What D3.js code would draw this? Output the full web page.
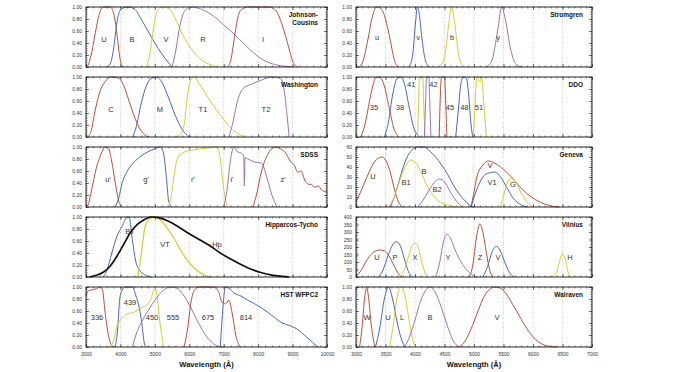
<!DOCTYPE html>
<html>
<head>
<meta charset="utf-8">
<script src="https://cdnjs.cloudflare.com/ajax/libs/d3/7.8.5/d3.min.js"></script>
<style>
body { margin: 0; background: #fff; }
svg { font-family: "Liberation Sans", Arial, sans-serif; }
.tick text { font-size: 5px; fill: #333; }
.axis path.domain { display: none; }
.axis line { stroke: #222; stroke-width: 0.6; }
.grid { stroke: #aaa; stroke-width: 0.6; stroke-dasharray: 1,1.5; }
.band { fill: none; }
.lbl { font-size: 7.5px; text-anchor: middle; dominant-baseline: middle; }
.title { font-size: 6.5px; font-weight: bold; text-anchor: end; }
.xtitle { font-size: 7.5px; font-weight: bold; text-anchor: middle; }
</style>
</head>
<body>
<svg width="673" height="372"></svg>
<script>
// ---- filter transmission curves: [wavelength (A), transmission] ----
var johnsonCousins = [
  {band: "U", pts: [[3000,0],[3050,0.02],[3150,0.2],[3250,0.5],[3350,0.8],[3450,0.97],[3550,1],[3700,1],[3800,0.9],[3900,0.55],[3950,0.3],[4000,0.1],[4050,0.02],[4100,0]]},
  {band: "B", pts: [[3600,0],[3700,0.05],[3800,0.3],[3900,0.75],[4000,0.95],[4200,1],[4400,0.97],[4600,0.8],[4800,0.6],[5000,0.4],[5200,0.22],[5400,0.07],[5500,0]]},
  {band: "V", pts: [[4750,0],[4850,0.2],[4950,0.6],[5050,0.9],[5200,1],[5400,0.98],[5600,0.8],[5800,0.55],[6000,0.35],[6200,0.2],[6400,0.1],[6600,0.04],[6800,0]]},
  {band: "R", pts: [[5500,0],[5600,0.25],[5700,0.6],[5800,0.85],[5950,0.98],[6100,1],[6400,0.95],[6700,0.85],[7000,0.7],[7300,0.55],[7600,0.38],[7900,0.22],[8200,0.1],[8500,0.04],[8800,0.01],[9000,0]]},
  {band: "I", pts: [[7100,0],[7200,0.1],[7300,0.45],[7400,0.8],[7500,0.95],[7700,1],[8300,1],[8500,0.95],[8700,0.7],[8900,0.3],[9000,0.1],[9150,0]]}
];
var washington = [
  {band: "C", pts: [[3050,0],[3150,0.1],[3250,0.4],[3400,0.75],[3550,0.92],[3750,1],[3950,0.98],[4100,0.85],[4250,0.6],[4400,0.35],[4550,0.15],[4700,0.04],[4800,0]]},
  {band: "M", pts: [[4350,0],[4450,0.15],[4600,0.55],[4750,0.85],[4900,0.98],[5050,1],[5200,0.92],[5400,0.65],[5600,0.35],[5800,0.12],[6000,0]]},
  {band: "T1", pts: [[5600,0],[5750,0.05],[5850,0.2],[5950,0.7],[6050,0.95],[6150,1],[6300,0.88],[6500,0.7],[6700,0.52],[6900,0.37],[7100,0.22],[7300,0.1],[7500,0.03],[7650,0]]},
  {band: "T2", pts: [[7150,0],[7250,0.2],[7400,0.6],[7550,0.8],[7800,0.88],[8100,0.95],[8400,1],[8650,0.98],[8750,0.8],[8850,0.3],[8900,0]]}
];
var sdss = [
  {band: "u'", pts: [[3000,0],[3050,0.02],[3150,0.25],[3300,0.65],[3450,0.9],[3550,1],[3650,0.98],[3750,0.75],[3850,0.4],[3950,0.1],[4050,0]]},
  {band: "g'", pts: [[3850,0],[3950,0.15],[4050,0.4],[4200,0.6],[4400,0.75],[4600,0.85],[4800,0.92],[5000,0.97],[5150,1],[5250,0.9],[5350,0.4],[5400,0.1],[5500,0]]},
  {band: "r'", pts: [[5350,0],[5450,0.1],[5550,0.5],[5650,0.8],[5800,0.9],[6100,0.95],[6500,0.98],[6800,1],[6900,0.8],[7000,0.3],[7100,0]]},
  {band: "i'", pts: [[7000,0],[7100,0.3],[7200,0.8],[7300,1],[7400,0.92],[7500,0.9],[7580,0.85],[7600,0.35],[7620,0.82],[7700,0.8],[7900,0.75],[8100,0.73],[8250,0.5],[8400,0.2],[8550,0]]},
  {band: "z'", pts: [[7850,0],[7950,0.2],[8100,0.6],[8300,0.9],[8500,1],[8650,0.97],[8800,0.9],[8950,0.75],[9050,0.7],[9150,0.58],[9250,0.6],[9350,0.45],[9450,0.38],[9550,0.37],[9650,0.33],[9750,0.35],[9850,0.28],[10000,0.25]]}
];
var hipparcosTycho = [
  {band: "BT", pts: [[3500,0],[3600,0.1],[3750,0.4],[3900,0.68],[4050,0.85],[4200,1],[4250,1],[4350,0.6],[4450,0.25],[4550,0.12],[4700,0.04],[4900,0]]},
  {band: "VT", pts: [[4500,0],[4600,0.35],[4700,0.8],[4800,0.95],[5000,1],[5200,0.93],[5400,0.78],[5600,0.6],[5800,0.4],[6000,0.24],[6200,0.12],[6400,0.04],[6600,0]]},
  {band: "Hp", pts: [[3100,0],[3300,0.03],[3500,0.08],[3700,0.18],[3900,0.35],[4100,0.55],[4300,0.75],[4500,0.88],[4700,0.96],[4900,1],[5100,0.99],[5400,0.93],[5700,0.83],[6000,0.72],[6300,0.62],[6600,0.52],[6900,0.4],[7200,0.3],[7500,0.21],[7800,0.13],[8100,0.07],[8400,0.03],[8700,0.01],[8900,0]]}
];
var hstWfpc2 = [
  {band: "336", pts: [[3000,0.85],[3050,0.93],[3150,0.95],[3300,0.97],[3420,1],[3480,0.95],[3550,0.6],[3650,0.2],[3750,0.02],[3800,0]]},
  {band: "439", pts: [[3850,0],[3920,0.3],[3980,0.8],[4050,0.95],[4150,1],[4350,1],[4450,0.85],[4550,0.65],[4620,0.4],[4700,0.05],[4750,0]]},
  {band: "450", pts: [[3700,0],[3800,0.1],[3900,0.35],[4000,0.45],[4200,0.55],[4400,0.58],[4600,0.65],[4800,0.72],[4900,0.82],[5000,1],[5050,0.9],[5150,0.4],[5250,0]]},
  {band: "555", pts: [[4350,0],[4450,0.2],[4600,0.4],[4800,0.6],[5000,0.78],[5200,0.92],[5450,1],[5650,0.98],[5850,0.85],[6050,0.65],[6250,0.42],[6450,0.22],[6650,0.08],[6850,0.01],[7000,0]]},
  {band: "675", pts: [[5850,0],[5950,0.3],[6050,0.75],[6150,0.95],[6300,1],[6700,1],[6850,0.92],[6950,0.75],[7050,0.72],[7150,0.78],[7250,0.55],[7350,0.2],[7450,0.03],[7500,0]]},
  {band: "814", pts: [[6900,0],[6970,0.6],[7050,1],[7150,0.98],[7300,0.9],[7500,0.85],[7700,0.78],[7900,0.72],[8100,0.65],[8300,0.57],[8500,0.48],[8700,0.4],[8900,0.36],[9100,0.31],[9300,0.22],[9500,0.12],[9650,0.04],[9750,0]]}
];
var stromgren = [
  {band: "u", pts: [[3050,0],[3120,0.1],[3200,0.45],[3280,0.85],[3350,1],[3420,0.98],[3500,0.8],[3580,0.45],[3650,0.12],[3720,0]]},
  {band: "v", pts: [[3900,0],[3960,0.2],[4010,0.75],[4040,1],[4070,0.9],[4120,0.45],[4180,0.1],[4250,0]]},
  {band: "b", pts: [[4400,0],[4500,0.15],[4570,0.7],[4620,1],[4670,0.75],[4740,0.2],[4820,0]]},
  {band: "y", pts: [[5200,0],[5300,0.1],[5400,0.6],[5470,1],[5530,0.8],[5620,0.3],[5700,0.06],[5800,0]]}
];
var ddo = [
  {band: "35", pts: [[3080,0],[3150,0.2],[3250,0.7],[3330,0.98],[3400,1],[3480,0.85],[3560,0.5],[3640,0.15],[3720,0]]},
  {band: "38", pts: [[3480,0],[3550,0.25],[3620,0.7],[3700,0.98],[3760,1],[3830,0.85],[3900,0.5],[3980,0.15],[4080,0]]},
  {band: "41", pts: [[4040,0],[4060,0.5],[4075,1],[4130,1],[4150,0.5],[4170,0]]},
  {band: "42", pts: [[4160,0],[4180,0.6],[4195,1],[4235,1],[4250,0.6],[4270,0]]},
  {band: "45", pts: [[4410,0],[4430,0.7],[4450,1],[4500,1],[4520,0.6],[4540,0]]},
  {band: "48", pts: [[4690,0],[4730,0.4],[4780,0.9],[4820,1],[4870,0.98],[4910,0.7],[4950,0.2],[4980,0]]},
  {band: "51", pts: [[4990,0],[5020,0.6],[5050,1],[5100,0.92],[5130,1],[5170,0.5],[5210,0]]}
];
var geneva = [
  {band: "U", pts: [[3000,5],[3100,18],[3200,32],[3300,44],[3400,49.5],[3450,50],[3500,47],[3580,35],[3650,18],[3720,5],[3780,0]]},
  {band: "B", pts: [[3580,0],[3650,10],[3750,30],[3850,48],[3950,57],[4050,60],[4150,60],[4250,56],[4350,50],[4450,42],[4550,33],[4650,22],[4750,13],[4850,6],[4950,1],[5000,0]]},
  {band: "B1", pts: [[3550,0],[3650,10],[3750,28],[3850,42],[3930,47],[4000,45],[4100,35],[4200,22],[4300,12],[4400,6],[4550,2],[4700,0]]},
  {band: "B2", pts: [[4050,0],[4150,8],[4250,18],[4350,26],[4420,28],[4500,25],[4600,15],[4700,6],[4800,0]]},
  {band: "V", pts: [[4950,0],[5000,15],[5050,30],[5150,42],[5250,46],[5350,44],[5450,40],[5550,35],[5650,29],[5750,22],[5850,16],[5950,11],[6050,7],[6200,3],[6350,0.5],[6450,0]]},
  {band: "V1", pts: [[4950,0],[5050,18],[5150,30],[5250,34],[5350,35],[5450,30],[5550,20],[5650,10],[5750,4],[5900,0]]},
  {band: "G", pts: [[5450,0],[5520,15],[5580,26],[5640,29],[5700,26],[5800,14],[5900,5],[6000,0]]}
];
var vilnius = [
  {band: "U", pts: [[3000,2],[3080,40],[3180,110],[3280,160],[3400,180],[3480,175],[3560,140],[3640,80],[3720,20],[3780,0]]},
  {band: "P", pts: [[3380,0],[3450,40],[3550,150],[3630,220],[3690,235],[3750,210],[3820,120],[3890,35],[3950,0]]},
  {band: "X", pts: [[3750,0],[3820,50],[3900,150],[3960,215],[4010,225],[4060,190],[4120,90],[4180,20],[4220,0]]},
  {band: "Y", pts: [[4350,0],[4420,100],[4480,230],[4540,285],[4600,260],[4680,180],[4780,100],[4880,45],[4980,12],[5050,0]]},
  {band: "Z", pts: [[4920,0],[4980,80],[5040,260],[5100,355],[5150,300],[5210,160],[5270,40],[5320,0]]},
  {band: "V", pts: [[5150,0],[5230,70],[5310,170],[5380,205],[5440,180],[5520,100],[5600,30],[5680,0]]},
  {band: "H", pts: [[6300,0],[6400,30],[6460,120],[6500,155],[6540,130],[6590,40],[6640,0]]}
];
var walraven = [
  {band: "W", pts: [[3060,0],[3100,0.3],[3150,0.85],[3180,1],[3210,0.85],[3260,0.35],[3320,0]]},
  {band: "U", pts: [[3330,0],[3400,0.3],[3480,0.8],[3550,1],[3620,0.8],[3700,0.4],[3780,0.1],[3840,0]]},
  {band: "L", pts: [[3570,0],[3630,0.35],[3700,0.85],[3760,1],[3830,0.85],[3900,0.45],[3960,0.12],[4010,0]]},
  {band: "B", pts: [[3820,0],[3900,0.15],[4000,0.45],[4100,0.78],[4200,0.97],[4260,1],[4350,0.9],[4450,0.65],[4550,0.35],[4650,0.1],[4750,0]]},
  {band: "V", pts: [[4750,0],[4850,0.1],[4950,0.3],[5050,0.55],[5150,0.8],[5250,0.95],[5350,1],[5450,0.98],[5550,0.88],[5650,0.72],[5750,0.55],[5850,0.38],[5950,0.23],[6050,0.12],[6150,0.05],[6300,0.01],[6400,0]]}
];

// label anchors in data units [wavelength, value], same order as the bands
var labelsJC = [[3523,0.45],[4336,0.45],[5324,0.45],[6398,0.45],[8141,0.45]];
var labelsWash = [[3726,0.45],[5149,0.45],[6398,0.45],[8228,0.45]];
var labelsSdss = [[3639,0.45],[4743,0.45],[6108,0.45],[7241,0.45],[8722,0.45]];
var labelsHT = [[4278,0.75],[5295,0.53],[6805,0.53]];
var labelsHst = [[3320,0.48],[4278,0.73],[4917,0.48],[5527,0.48],[6544,0.48],[7647,0.48]];
var labelsStrom = [[3356,0.48],[4051,0.48],[4627,0.48],[5407,0.48]];
var labelsDdo = [[3305,0.48],[3746,0.48],[3935,0.87],[4314,0.87],[4593,0.48],[4836,0.48],[5085,0.48]];
var labelsGeneva = [[3288,30],[4153,35],[3847,24],[4373,17],[5271,41],[5305,24],[5661,22]];
var labelsVilnius = [[3356,127],[3661,127],[4000,127],[4559,127],[5102,127],[5407,127],[6627,127]];
var labelsWalraven = [[3186,0.48],[3542,0.48],[3780,0.48],[4254,0.48],[5390,0.48]];

var xTicksLeft = [3000,4000,5000,6000,7000,8000,9000,10000];
var xTicksRight = [3000,3500,4000,4500,5000,5500,6000,6500,7000];

// ---- layout / style ----
var svg = d3.select("svg");
var palette = ["#b8503c", "#4a66b8", "#d6cc3c", "#9b74b3"];
var cols = {
  left:  {x0: 86, x1: 327, dom: [3000, 10000], ticks: xTicksLeft, minor: 200},
  right: {x0: 356, x1: 592, dom: [3000, 7000], ticks: xTicksRight, minor: 100}
};
var rowTop = function(r) { return 7 + r * 70; },
    rowH = 60;

function drawPanel(colName, row, title, curves, spots, yMax, yStep, yFmt) {
  var c = cols[colName],
      top = rowTop(row),
      bot = top + rowH;

  var x = d3.scaleLinear().domain(c.dom).range([c.x0, c.x1]);
  var y = d3.scaleLinear().domain([0, yMax]).range([bot, top]);

  var g = svg.append("g");

  // dotted grid
  g.selectAll(".grid")
    .data(c.ticks.slice(1, -1))
    .enter().append("line")
    .attr("class", "grid")
    .attr("x1", function(d) { return x(d); })
    .attr("x2", function(d) { return x(d); })
    .attr("y1", top).attr("y2", bot);

  var yMajor = d3.range(0, yMax + yStep / 2, yStep),
      yMinor = d3.range(0, yMax + 1e-9, yStep / 5),
      xMinor = d3.range(c.dom[0], c.dom[1] + 1, c.minor);

  // ticks on all four sides, inward
  g.append("g").attr("class", "axis")
    .attr("transform", "translate(" + c.x0 + ",0)")
    .call(d3.axisLeft(y).tickValues(yMajor).tickSize(-3).tickPadding(4).tickFormat(d3.format(yFmt)));
  g.append("g").attr("class", "axis")
    .attr("transform", "translate(" + c.x0 + ",0)")
    .call(d3.axisLeft(y).tickValues(yMinor).tickSize(-1.5).tickFormat(""));
  g.append("g").attr("class", "axis")
    .attr("transform", "translate(" + c.x1 + ",0)")
    .call(d3.axisRight(y).tickValues(yMajor).tickSize(-3).tickFormat(""));
  g.append("g").attr("class", "axis")
    .attr("transform", "translate(" + c.x1 + ",0)")
    .call(d3.axisRight(y).tickValues(yMinor).tickSize(-1.5).tickFormat(""));

  g.append("g").attr("class", "axis")
    .attr("transform", "translate(0," + top + ")")
    .call(d3.axisTop(x).tickValues(c.ticks).tickSize(-3).tickFormat(""));
  g.append("g").attr("class", "axis")
    .attr("transform", "translate(0," + top + ")")
    .call(d3.axisTop(x).tickValues(xMinor).tickSize(-1.5).tickFormat(""));
  g.append("g").attr("class", "axis")
    .attr("transform", "translate(0," + bot + ")")
    .call(d3.axisBottom(x).tickValues(c.ticks).tickSize(-3).tickPadding(5)
      .tickFormat(row === 4 ? d3.format("d") : ""));
  g.append("g").attr("class", "axis")
    .attr("transform", "translate(0," + bot + ")")
    .call(d3.axisBottom(x).tickValues(xMinor).tickSize(-1.5).tickFormat(""));

  // curves
  var line = d3.line()
    .x(function(d) { return x(d[0]); })
    .y(function(d) { return y(d[1]); })
    .curve(d3.curveMonotoneX);

  g.append("g")
    .selectAll("path")
    .data(curves)
    .enter().append("path")
    .attr("class", "band")
    .attr("stroke", function(d, i) {
      if (d.band === "Hp") return "#111";
      if (colName === "left" && row === 3) return palette[i + 1];
      return palette[i % 4];
    })
    .attr("stroke-width", function(d) { return d.band === "Hp" ? 1.7 : (d.band === "VT" ? 1.3 : 1); })
    .attr("d", function(d) { return line(d.pts); });

  // frame
  g.append("rect")
    .attr("x", c.x0).attr("y", top)
    .attr("width", c.x1 - c.x0).attr("height", rowH)
    .attr("fill", "none").attr("stroke", "#111").attr("stroke-width", 0.9);

  // band names
  g.selectAll(".lbl")
    .data(curves)
    .enter().append("text")
    .attr("class", "lbl")
    .attr("fill", "#333")
    .attr("x", function(d, i) { return x(spots[i][0]); })
    .attr("y", function(d, i) { return y(spots[i][1]); })
    .text(function(d) { return d.band; });

  // panel title
  var t = g.append("text")
    .attr("class", "title")
    .attr("fill", "#111")
    .attr("x", c.x1 - 9)
    .attr("y", top + 10);
  title.split("\n").forEach(function(s, k) {
    t.append("tspan").attr("x", c.x1 - 9).attr("dy", k ? 8 : 0).text(s);
  });
}

drawPanel("left", 0, "Johnson-\nCousins", johnsonCousins, labelsJC, 1, 0.2, ".2f");
drawPanel("left", 1, "Washington", washington, labelsWash, 1, 0.2, ".2f");
drawPanel("left", 2, "SDSS", sdss, labelsSdss, 1, 0.2, ".2f");
drawPanel("left", 3, "Hipparcos-Tycho", hipparcosTycho, labelsHT, 1, 0.2, ".2f");
drawPanel("left", 4, "HST WFPC2", hstWfpc2, labelsHst, 1, 0.2, ".2f");

drawPanel("right", 0, "Stromgren", stromgren, labelsStrom, 1, 0.2, ".2f");
drawPanel("right", 1, "DDO", ddo, labelsDdo, 1, 0.2, ".2f");
drawPanel("right", 2, "Geneva", geneva, labelsGeneva, 60, 10, "d");
drawPanel("right", 3, "Vilnius", vilnius, labelsVilnius, 400, 50, "d");
drawPanel("right", 4, "Walraven", walraven, labelsWalraven, 1, 0.2, ".2f");

// axis titles
svg.append("text").attr("class", "xtitle").attr("fill", "#111")
  .attr("x", (cols.left.x0 + cols.left.x1) / 2).attr("y", 367)
  .text("Wavelength (\u00c5)");
svg.append("text").attr("class", "xtitle").attr("fill", "#111")
  .attr("x", (cols.right.x0 + cols.right.x1) / 2).attr("y", 367)
  .text("Wavelength (\u00c5)");
</script>
</body>
</html>
